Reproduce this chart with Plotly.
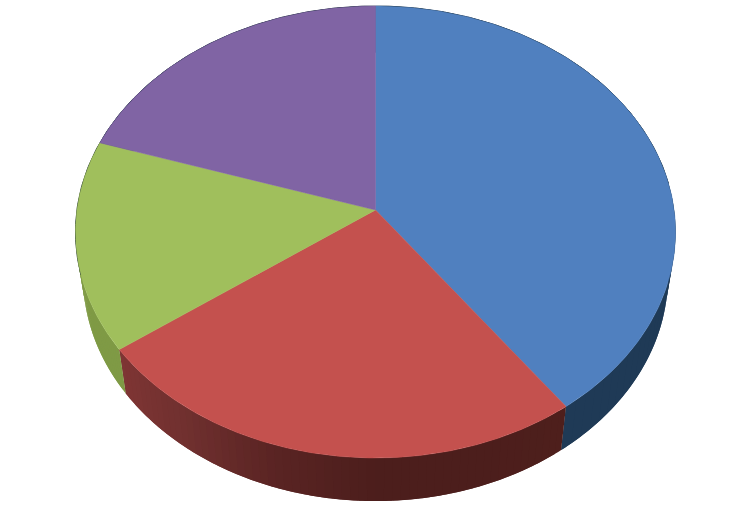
"""
plot.py - tilted 3D pie drawn with filled scatter polygons
"""

import numpy as np
import plotly.graph_objects as go

# ---------------- Data ----------------

slice_names = ["Blue", "Red", "Green", "Purple"]
slice_values = [40, 25, 15, 20]
top_colors = ["#5080bf", "#c4514e", "#a0bf5c", "#8064a4"]
side_colors = [
    ["#1f3a56", "#1f3a56"],
    ["#4e1f1c", "#4c1e1c", "#4c1e1c", "#5a2423", "#70302f", "#7f3534"],
    ["#7f9a45", "#7f9a45"],
    ["#1f3a56", "#1f3a56"],
]

# ---------------- Projection of the tilted disc, in picture pixels ----------------

CX = 375.5
TOP = dict(a=-203.4, b=210.0, s=298.6)
BOTTOM = dict(a=-197.4, b=254.9, s=291.0)
PERSPECTIVE = 0.0973


def project(theta, plane, r=1.0):
    u = r * np.sin(theta)
    v = r * np.cos(theta)
    w = 1 + PERSPECTIVE * v
    return CX + plane["s"] * u / w, (plane["a"] * v + plane["b"]) / w


def hex_rgb(c):
    return np.array([int(c[i : i + 2], 16) for i in (1, 3, 5)], dtype=float)


def mix(stops, t):
    pos = t * (len(stops) - 1)
    i = min(int(pos), len(stops) - 2)
    rgb = hex_rgb(stops[i]) * (1 - (pos - i)) + hex_rgb(stops[i + 1]) * (pos - i)
    return "rgb(%d,%d,%d)" % tuple(rgb.round())


edges = np.cumsum([0] + slice_values) / sum(slice_values) * 2 * np.pi

fig = go.Figure()

# ---------------- Side wall ----------------

BANDS = 60
for k, name in enumerate(slice_names):
    cuts = np.linspace(edges[k], edges[k + 1], BANDS + 1)
    for j in range(BANDS):
        # each band runs on under the next one, so no seam shows between them
        arc = np.linspace(cuts[j], cuts[min(j + 2, BANDS)], 6)
        x0, y0 = project(arc, TOP)
        x1, y1 = project(arc[::-1], BOTTOM)
        fig.add_trace(
            go.Scatter(
                x=np.r_[x0, x1, x0[0]],
                y=np.r_[y0, y1, y0[0]],
                mode="none",
                fill="toself",
                fillcolor=mix(side_colors[k], (j + 0.5) / BANDS),
                hoverinfo="skip",
                showlegend=False,
            )
        )

# ---------------- Back rim ----------------

rim = np.linspace(edges[3] - 0.6, 2 * np.pi + 1.45, 300)
rx, ry = project(rim, TOP)
fig.add_trace(
    go.Scatter(
        x=rx,
        y=ry,
        mode="lines",
        line=dict(color="#1d2f3a", width=1.0),
        hoverinfo="skip",
        showlegend=False,
    )
)

# ---------------- Top faces ----------------

for k, name in enumerate(slice_names):
    arc = np.linspace(edges[k], edges[k + 1], 160)
    x, y = project(arc, TOP)
    cx, cy = project(0.0, TOP, r=0.0)
    fig.add_trace(
        go.Scatter(
            x=np.r_[cx, x, cx],
            y=np.r_[cy, y, cy],
            mode="lines",
            fill="toself",
            fillcolor=top_colors[k],
            line=dict(color=top_colors[k], width=0.5),
            name=name,
            hoverinfo="name",
            showlegend=False,
        )
    )

fig.update_layout(
    width=751,
    height=509,
    margin=dict(l=0, r=0, t=0, b=0),
    paper_bgcolor="white",
    plot_bgcolor="white",
    showlegend=False,
)
fig.update_xaxes(range=[0, 751], visible=False, fixedrange=True)
fig.update_yaxes(range=[509, 0], visible=False, fixedrange=True)

fig.write_html(
    "out.html",
    config=dict(displayModeBar=False),
    post_script="document.body.style.margin = '0';",
)
